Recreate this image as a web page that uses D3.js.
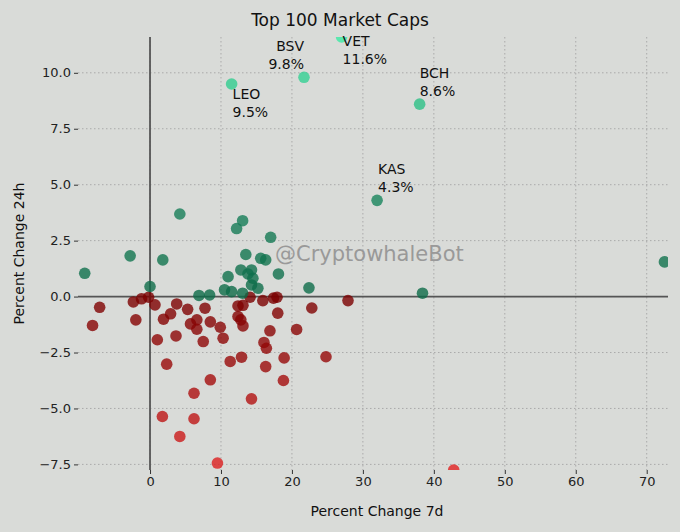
<!DOCTYPE html>
<html><head><meta charset="utf-8">
<script src="https://cdn.jsdelivr.net/npm/d3@7"></script>
<style>body{margin:0;background:#d9dbd8;font-family:"DejaVu Sans",sans-serif}</style>
</head><body><svg id="c" width="680" height="532"></svg>
<script>
// percent change 7d / 24h
var greenX = [4.2,13.05,12.2,17.0,-2.8,1.8,13.5,15.6,16.3,-9.2,12.8,14.3,11.0,18.1,13.8,14.5,14.3,15.2,22.4,0,10.5,11.5,13.05,6.9,8.4,38.4,72.5,32.0,38.0,11.5,21.7,27.0];
var greenY = [3.69,3.39,3.04,2.65,1.82,1.64,1.88,1.71,1.64,1.04,1.19,1.19,0.89,1.01,1.01,0.82,0.52,0.37,0.39,0.45,0.30,0.22,0.15,0.05,0.07,0.15,1.55,4.3,8.6,9.5,9.8,11.6];
var redX = [-7.1,-8.1,-2.35,-2.0,-1.2,-0.2,0.7,1.9,2.9,3.76,1.03,3.66,2.35,5.3,6.6,5.7,6.6,7.75,8.5,9.9,7.5,10.3,8.5,6.2,6.2,1.74,4.2,9.5,14.3,11.3,12.9,12.4,13.1,12.4,12.8,13.1,14.1,15.9,17.4,17.9,18.0,16.9,16.06,16.4,16.3,18.9,18.8,20.66,22.8,24.8,27.9,42.8];
var redY = [-0.48,-1.29,-0.24,-1.04,-0.1,-0.03,-0.37,-1.01,-0.77,-0.33,-1.93,-1.76,-3.02,-0.57,-1.04,-1.22,-1.46,-0.52,-1.13,-1.37,-2.01,-1.86,-3.72,-4.32,-5.46,-5.36,-6.25,-7.44,-4.57,-2.9,-2.71,-0.42,-0.39,-0.89,-1.04,-1.31,-0.03,-0.18,-0.07,-0.03,-0.74,-1.53,-2.05,-2.31,-3.13,-2.74,-3.75,-1.47,-0.51,-2.69,-0.18,-7.75];
var labelNames = ["BSV","VET","LEO","BCH","KAS"];
var labelX = [21.7,27.0,11.5,38.0,32.0];
var labelY = [9.8,11.6,9.5,8.6,4.3];
var labelText = ["9.8%","11.6%","9.5%","8.6%","4.3%"];
var xTicks = [0,10,20,30,40,50,60,70];
var yTicks = [-7.5,-5,-2.5,0,2.5,5,7.5,10];

var labelPos = {BSV:{dx:0,dy:-26,anchor:"end"},VET:{dx:1,dy:9,anchor:"start"},LEO:{dx:1,dy:15,anchor:"start"},
  BCH:{dx:0,dy:-26,anchor:"start"},KAS:{dx:1,dy:-26,anchor:"start"}};

var svg = d3.select("#c");
var L=78,R=668,T=37,B=470;
var x = d3.scaleLinear().domain([-10.15,73]).range([L,R]);
var y = d3.scaleLinear().domain([-7.75,11.6]).range([B,T]);

var grid = svg.append("g").attr("stroke","#aaa").attr("stroke-dasharray","1.5,2.5").attr("stroke-width",1);
xTicks.forEach(function(t){grid.append("line").attr("x1",x(t)).attr("x2",x(t)).attr("y1",T).attr("y2",B);});
yTicks.forEach(function(t){grid.append("line").attr("x1",L).attr("x2",R).attr("y1",y(t)).attr("y2",y(t));});

svg.append("line").attr("x1",x(0)).attr("x2",x(0)).attr("y1",T).attr("y2",B).attr("stroke","#555").attr("stroke-width",1.8);
svg.append("line").attr("x1",L).attr("x2",R).attr("y1",y(0)).attr("y2",y(0)).attr("stroke","#555").attr("stroke-width",1.8);

var xa = svg.append("g").attr("transform","translate(0,"+B+")").call(d3.axisBottom(x).tickValues(xTicks).tickSize(4).tickFormat(d3.format("d")));
var ya = svg.append("g").attr("transform","translate("+L+",0)").call(d3.axisLeft(y).tickValues(yTicks).tickSize(4).tickFormat(d3.format(".1f")));
[xa,ya].forEach(function(a){a.select(".domain").remove();a.selectAll("text").attr("font-size",13).attr("fill","#222").attr("font-family","DejaVu Sans");a.selectAll("line").attr("stroke","#333");});

var clip = svg.append("clipPath").attr("id","cp").append("rect").attr("x",L).attr("y",T).attr("width",R-L).attr("height",B-T);
var pts = svg.append("g").attr("clip-path","url(#cp)");
var gCol = d3.scaleLinear().domain([0,4,12]).range(["#0d6b48","#17805a","#3df0a8"]).clamp(true);
var rCol = d3.scaleLinear().domain([0,3,8]).range(["#7a0000","#990a0a","#e52222"]).clamp(true);
pts.selectAll(".r").data(redX).enter().append("circle").attr("cx",function(d){return x(d);}).attr("cy",function(d,i){return y(redY[i]);})
  .attr("r",5.8).attr("fill",function(d,i){return rCol(-redY[i]);}).attr("opacity",0.8);
pts.selectAll(".g").data(greenX).enter().append("circle").attr("cx",function(d){return x(d);}).attr("cy",function(d,i){return y(greenY[i]);})
  .attr("r",5.8).attr("fill",function(d,i){return gCol(greenY[i]);}).attr("opacity",0.8);

labelNames.forEach(function(n,i){
  var p=labelPos[n];
  var t=svg.append("text").attr("x",x(labelX[i])+p.dx).attr("y",y(labelY[i])+p.dy).attr("text-anchor",p.anchor).attr("font-size",14).attr("fill","#111");
  t.append("tspan").attr("x",x(labelX[i])+p.dx).text(n);
  t.append("tspan").attr("x",x(labelX[i])+p.dx).attr("dy",18).text(labelText[i]);
});

svg.append("text").attr("x",275).attr("y",261).attr("font-size",21).attr("fill","#999").text("@CryptowhaleBot");
svg.append("text").attr("x",340).attr("y",26).attr("text-anchor","middle").attr("font-size",17).attr("fill","#111").text("Top 100 Market Caps");
svg.append("text").attr("x",377).attr("y",516).attr("text-anchor","middle").attr("font-size",14).attr("fill","#111").text("Percent Change 7d");
svg.append("text").attr("transform","translate(24,"+((T+B)/2)+") rotate(-90)").attr("text-anchor","middle").attr("font-size",14).attr("fill","#111").text("Percent Change 24h");
</script></body></html>
